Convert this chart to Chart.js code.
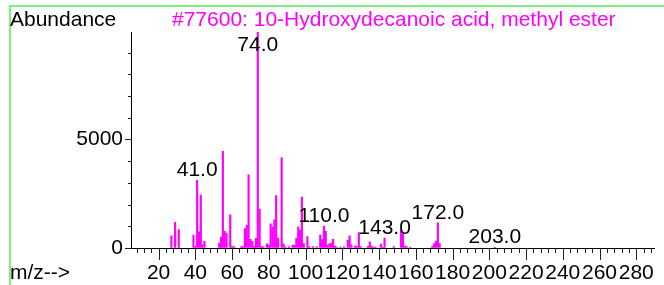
<!DOCTYPE html>
<html>
<head>
<meta charset="utf-8">
<script src="https://cdn.jsdelivr.net/npm/chart.js@4"></script>
<style>
  html, body { margin: 0; padding: 0; background: #fff; }
  #wrap { width: 664px; height: 285px; }
</style>
</head>
<body>
<div id="wrap"><canvas id="spectrum" width="664" height="285"></canvas></div>
<script>
// spectrum
var mz = [27, 29, 31, 39, 40, 41, 42, 43, 44, 45,
          53, 54, 55, 56, 57, 59, 60, 61, 65, 66,
          67, 68, 69, 70, 71, 72, 73, 74, 75, 76,
          77, 79, 80, 81, 82, 83, 84, 85, 87, 88,
          89, 91, 93, 94, 95, 96, 97, 98, 99, 101,
          102, 104, 106, 108, 109, 110, 111, 112, 113, 114,
          115, 116, 117, 119, 121, 123, 124, 125, 127, 128,
          129, 130, 134, 135, 136, 137, 138, 141, 142, 143,
          148, 152, 153, 154, 155, 157, 169, 170, 171, 172,
          173, 203];
var abundance = [560, 1180, 850, 590, 80, 3120, 740, 2440, 160, 310,
                 230, 500, 4450, 770, 680, 1530, 60, 60, 60, 60,
                 900, 1050, 3370, 400, 310, 80, 440, 9950, 1790, 80,
                 50, 190, 140, 1110, 960, 1300, 2410, 460, 4170, 190,
                 50, 60, 140, 140, 460, 960, 830, 2350, 200, 530,
                 60, 60, 60, 590, 390, 1000, 770, 140, 190, 230,
                 400, 90, 40, 40, 50, 360, 560, 150, 100, 60,
                 710, 60, 80, 280, 90, 40, 40, 185, 40, 460,
                 60, 830, 650, 100, 60, 40, 80, 200, 320, 1160,
                 200, 30];
var labelledPeaks = [41, 74, 110, 143, 172, 203];
var xTickLabels = [20, 40, 60, 80, 100, 120, 140, 160, 180, 200, 220, 240, 260, 280];
var yTickLabels = [0, 5000];
var titleText = '#77600: 10-Hydroxydecanoic acid, methyl ester';

var FONT = '"Liberation Sans", Arial, sans-serif';

var points = mz.map(function(m, i) { return { x: m, y: abundance[i] }; });

var decor = {
  id: 'decor',
  afterDraw: function(chart) {
    var ctx = chart.ctx;
    var xs = chart.scales.x, ys = chart.scales.y;
    ctx.save();

    // frame lines
    ctx.strokeStyle = '#80ee80';
    ctx.lineWidth = 2;
    ctx.beginPath();
    ctx.moveTo(10, 285); ctx.lineTo(10, 6); ctx.lineTo(664, 6);
    ctx.stroke();

    // tick marks
    ctx.strokeStyle = '#222';
    ctx.lineWidth = 1;
    xs.ticks.forEach(function(t) {
      var px = Math.round(xs.getPixelForValue(t.value)) + 0.5;
      var len = xTickLabels.indexOf(t.value) >= 0 ? 12 : 5;
      ctx.beginPath(); ctx.moveTo(px, xs.top); ctx.lineTo(px, xs.top + len); ctx.stroke();
    });
    ys.ticks.forEach(function(t) {
      var py = Math.round(ys.getPixelForValue(t.value)) + 0.5;
      var len = yTickLabels.indexOf(t.value) >= 0 ? 6 : 3;
      ctx.beginPath(); ctx.moveTo(ys.right - len, py); ctx.lineTo(ys.right, py); ctx.stroke();
    });

    // texts
    ctx.font = '21px ' + FONT;
    ctx.textBaseline = 'middle';
    ctx.textAlign = 'left';
    ctx.fillStyle = '#000';
    ctx.fillText('Abundance', 10, 20);
    ctx.fillText('m/z-->', 10, 273);
    ctx.fillStyle = '#ff00ff';
    ctx.fillText(titleText, 172, 20);

    // peak labels
    ctx.fillStyle = '#000';
    ctx.textAlign = 'center';
    ctx.textBaseline = 'alphabetic';
    labelledPeaks.forEach(function(m) {
      var i = mz.indexOf(m);
      var v = i >= 0 ? abundance[i] : 0;
      var px = xs.getPixelForValue(m);
      var py = Math.max(ys.getPixelForValue(v) - 4, 51);
      ctx.fillText(m.toFixed(1), px, py);
    });
    ctx.restore();
  }
};

new Chart(document.getElementById('spectrum'), {
  type: 'bar',
  data: {
    datasets: [{
      data: points,
      backgroundColor: '#ff00ff',
      borderWidth: 0,
      barThickness: 1.5
    }]
  },
  options: {
    responsive: false,
    animation: false,
    layout: { padding: { left: 0, top: 32, right: 3, bottom: 0 } },
    plugins: { legend: { display: false }, tooltip: { enabled: false }, title: { display: false } },
    scales: {
      x: {
        type: 'linear',
        min: 5,
        max: 290,
        offset: false,
        afterFit: function(s) { s.height = 37; },
        afterBuildTicks: function(s) {
          var t = [];
          for (var v = 8; v <= 288; v += 4) t.push({ value: v });
          s.ticks = t;
        },
        grid: { display: true, drawOnChartArea: false, drawTicks: false, offset: false },
        border: { display: true, color: '#000', width: 1 },
        ticks: {
          autoSkip: false,
          maxRotation: 0,
          padding: 13,
          color: '#000',
          font: { family: FONT, size: 21 },
          callback: function(v) { return xTickLabels.indexOf(v) >= 0 ? String(v) : ''; }
        }
      },
      y: {
        min: 0,
        max: 9950,
        afterFit: function(s) { s.width = 131; },
        afterBuildTicks: function(s) {
          var t = [];
          for (var v = 0; v <= 9000; v += 1000) t.push({ value: v });
          s.ticks = t;
        },
        grid: { display: true, drawOnChartArea: false, drawTicks: false },
        border: { display: true, color: '#000', width: 1 },
        ticks: {
          autoSkip: false,
          padding: 8,
          color: '#000',
          font: { family: FONT, size: 21 },
          callback: function(v) { return yTickLabels.indexOf(v) >= 0 ? String(v) : ''; }
        }
      }
    }
  },
  plugins: [decor]
});
</script>
</body>
</html>
